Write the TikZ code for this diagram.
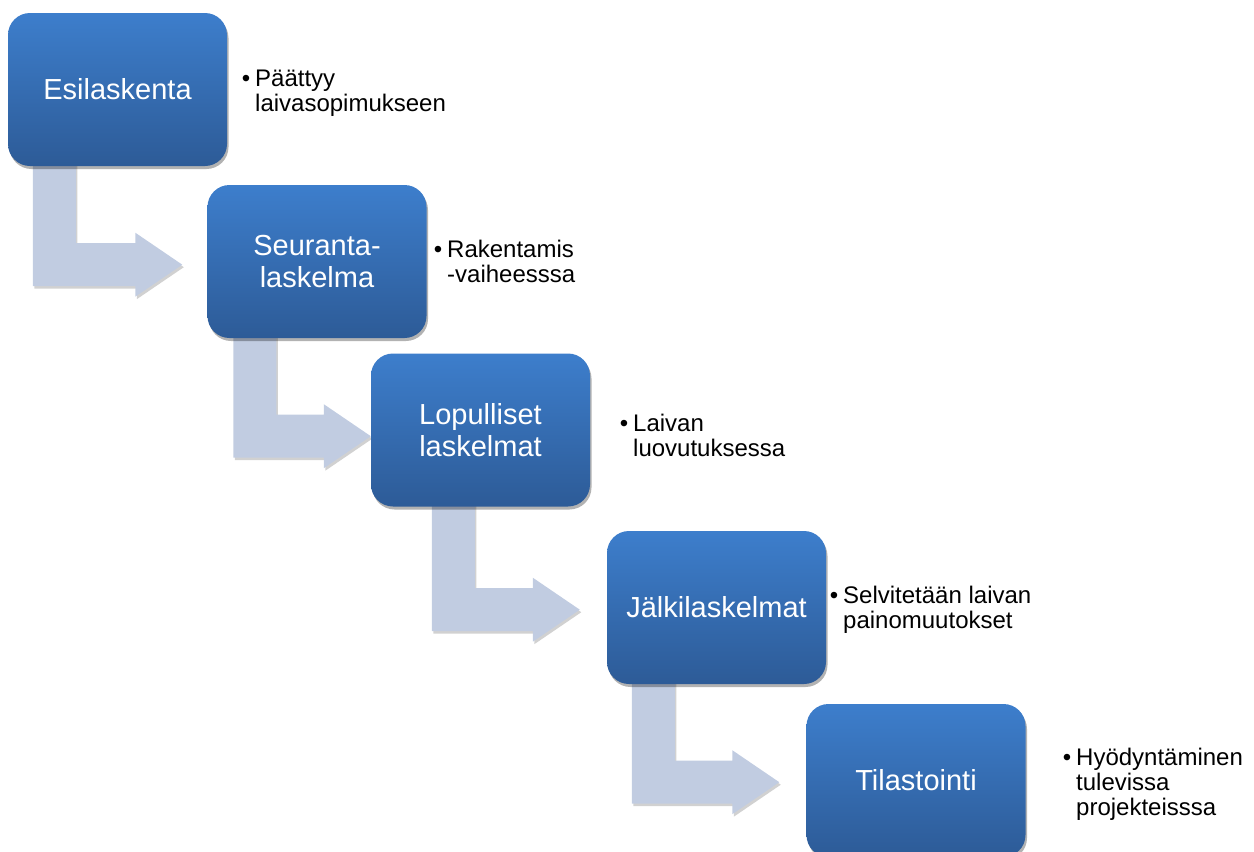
\documentclass[tikz,border=0pt]{standalone}
\usepackage{fontspec}
\setmainfont{Liberation Sans}
\usetikzlibrary{calc,shadows}
\definecolor{boxtop}{HTML}{3D7ECC}
\definecolor{boxmid}{HTML}{356FB6}
\definecolor{boxbot}{HTML}{2D5B97}
\definecolor{arrowcol}{HTML}{C1CCE1}
\pgfdeclarelayer{background}
\pgfsetlayers{background,main}
\newcommand\bentarrow[5]{%
  \fill[bentfill] let \p1=(#1.south west), \p2=(#2.west) in
  (\x1+#3pt, \y1+20pt) -- (\x1+#3pt+43pt, \y1+20pt)
  -- (\x1+#3pt+43pt, \y1-#4pt+21.5pt) -- (\x2-#5pt-47pt, \y1-#4pt+21.5pt)
  -- (\x2-#5pt-47pt, \y1-#4pt+32pt) -- (\x2-#5pt, \y1-#4pt)
  -- (\x2-#5pt-47pt, \y1-#4pt-32pt) -- (\x2-#5pt-47pt, \y1-#4pt-21.5pt)
  -- (\x1+#3pt, \y1-#4pt-21.5pt) -- cycle;}
\newcommand\bul{\llap{\textbullet\hspace{5pt}}}
\tikzset{
  stagebox/.style={rectangle, rounded corners=22pt, minimum width=219pt, minimum height=153pt,
    inner sep=0pt, top color=boxtop, middle color=boxmid, bottom color=boxbot, draw=none,
    text=white, align=center, font=\fontsize{29}{32}\selectfont,
    drop shadow={shadow xshift=1.5pt, shadow yshift=-3pt, opacity=0.3, fill=black}},
  bentfill/.style={fill=arrowcol,
    drop shadow={shadow xshift=1.5pt, shadow yshift=-2.5pt, opacity=0.18, fill=black}},
  note/.style={anchor=base west, inner sep=0pt, text=black, font=\fontsize{24}{25}\selectfont}
}
\begin{document}
\begin{tikzpicture}[x=1pt, y=-1pt]
\useasboundingbox (0,0) rectangle (1254,852);
\node[stagebox] (b1) at (117.5,89.5) {Esilaskenta};
\node[stagebox] (b2) at (317,261.5) {Seuranta-\\laskelma};
\node[stagebox] (b3) at (480.5,430) {Lopulliset\\laskelmat};
\node[stagebox] (b4) at (716.5,607.5) {Jälkilaskelmat};
\node[stagebox] (b5) at (916,780.5) {Tilastointi};
\node[note] (t1) at (255,86) {\begin{tabular}[t]{@{}l@{}}\bul Päättyy\\laivasopimukseen\end{tabular}};
\node[note] (t2) at (447,257) {\begin{tabular}[t]{@{}l@{}}\bul Rakentamis\\-vaiheesssa\end{tabular}};
\node[note] (t3) at (633,431) {\begin{tabular}[t]{@{}l@{}}\bul Laivan\\luovutuksessa\end{tabular}};
\node[note] (t4) at (843,603) {\begin{tabular}[t]{@{}l@{}}\bul Selvitetään laivan\\painomuutokset\end{tabular}};
\node[note] (t5) at (1076,765) {\begin{tabular}[t]{@{}l@{}}\bul Hyödyntäminen\\tulevissa\\projekteisssa\end{tabular}};
\begin{pgfonlayer}{background}
\bentarrow{b1}{b2}{25}{98.5}{25}
\bentarrow{b2}{b3}{26}{98}{0}
\bentarrow{b3}{b4}{61}{103}{27}
\bentarrow{b4}{b5}{25}{98}{27}
\end{pgfonlayer}
\end{tikzpicture}
\end{document}
